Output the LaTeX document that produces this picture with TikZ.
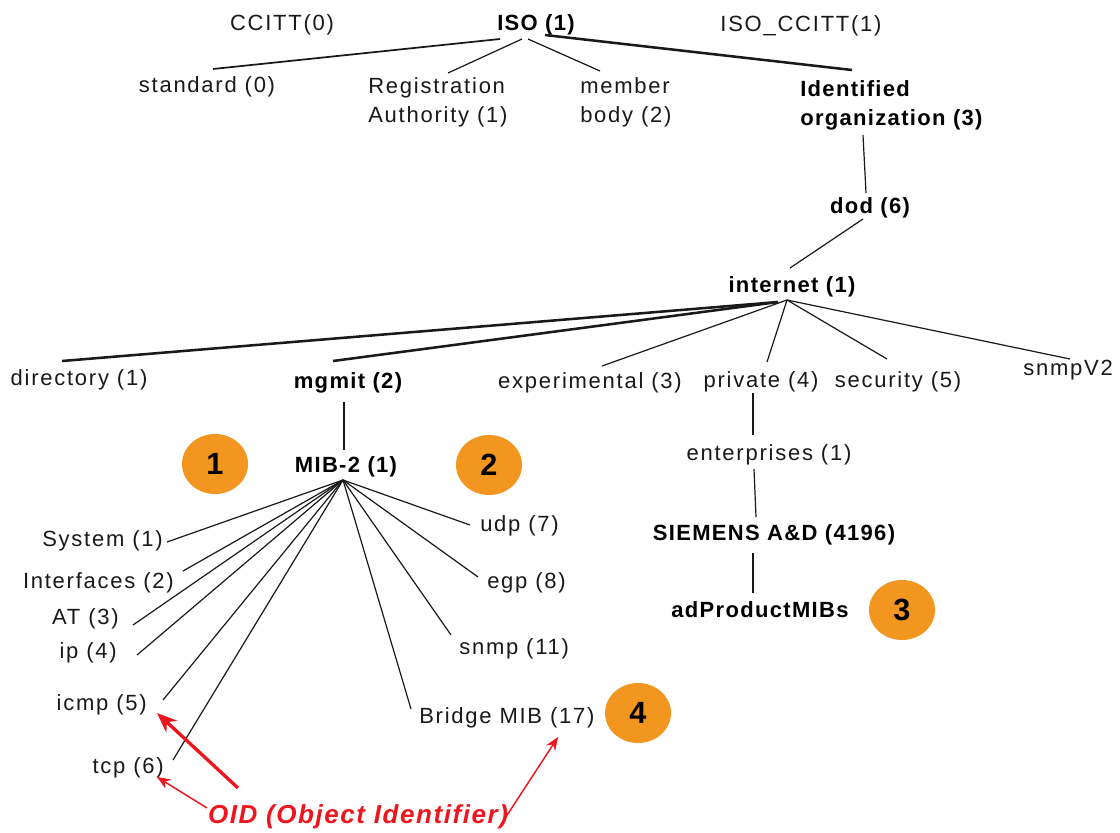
\documentclass[tikz,border=0pt]{standalone}
\usepackage{fontspec}
\setmainfont{Liberation Sans}
\newfontfamily\treefont[LetterSpace=8]{Liberation Sans}
\newfontfamily\treebold[LetterSpace=6]{Liberation Sans}
\usetikzlibrary{arrows.meta,shapes.geometric}
\definecolor{badgeorange}{RGB}{242,150,32}
\definecolor{oidred}{RGB}{238,22,30}
\definecolor{ink}{RGB}{25,25,25}

\begin{document}
\begin{tikzpicture}[x=0.75pt, y=-0.75pt,
  txt/.style={inner sep=0pt, text=ink, font=\treefont\fontsize{16.5pt}{21.75pt}\selectfont},
  btxt/.style={inner sep=0pt, text=black, font=\treebold\bfseries\fontsize{16.5pt}{21.75pt}\selectfont},
  edge/.style={draw=ink, line width=0.9pt},
  midedge/.style={draw=ink, line width=1.3pt},
  trunk/.style={draw=ink, line width=1.9pt},
  badge/.style={ellipse, fill=badgeorange, minimum width=49.5pt, minimum height=45pt,
    inner sep=0pt, text=black, font=\treebold\bfseries\fontsize{23pt}{23pt}\selectfont},
  oidarrow/.style={draw=oidred, line width=1.1pt, -{Stealth[length=10pt, width=8pt]}},
  oidbig/.style={draw=oidred, line width=2.5pt, -{Stealth[length=15pt, width=12pt]}}
]
\fill[white] (0,0) rectangle (1120,832);
\useasboundingbox (0,0) rectangle (1120,832);

% ---- top level ----
\node[txt] (ccitt) at (282,25) {CCITT(0)};
\node[btxt] (iso) at (536,25) {ISO (1)};
\node[txt] (isoccitt) at (801,26) {ISO\_CCITT(1)};
\node[txt] (standard) at (207,87) {standard (0)};
\node[txt, anchor=west, align=left] (regauth) at (368,102) {Registration\\Authority (1)};
\node[txt, anchor=west, align=left] (member) at (580,102) {member\\body (2)};
\node[btxt, anchor=west, align=left] (identorg) at (800,105) {Identified\\organization (3)};
\node[btxt] (dod) at (870,208) {dod (6)};
\node[btxt] (internet) at (792,287) {internet (1)};

% ---- internet subtree ----
\node[txt] (directory) at (79,380) {directory (1)};
\node[btxt] (mgmt) at (348,383) {mgmit (2)};
\node[txt] (experimental) at (590,383) {experimental (3)};
\node[txt] (private) at (761,382) {private (4)};
\node[txt] (security) at (898,382) {security (5)};
\node[txt, anchor=west] (snmpv2) at (1023,370) {snmpV2};

\node[btxt] (mib) at (346,467) {MIB-2 (1)};
\node[txt] (enterprises) at (769,455) {enterprises (1)};
\node[btxt] (siemens) at (774,535) {SIEMENS A\&D (4196)};
\node[btxt] (adproduct) at (760,610) {adProductMIBs};

% ---- MIB-2 groups ----
\node[txt, anchor=east] (system) at (163,541) {System (1)};
\node[txt, anchor=east] (interfaces) at (174,583) {Interfaces (2)};
\node[txt, anchor=east] (at) at (119,619) {AT (3)};
\node[txt, anchor=east] (ip) at (117,653) {ip (4)};
\node[txt, anchor=east] (icmp) at (147,705) {icmp (5)};
\node[txt, anchor=east] (tcp) at (164,768) {tcp (6)};
\node[txt, anchor=west] (udp) at (480,526) {udp (7)};
\node[txt, anchor=west] (egp) at (487,583) {egp (8)};
\node[txt, anchor=west] (snmp) at (459,649) {snmp (11)};
\node[txt, anchor=west] (bridge) at (419,718) {Bridge MIB (17)};

% ---- numbered badges ----
\node[badge] (b1) at (215,464) {1};
\node[badge] (b2) at (489,465) {2};
\node[badge] (b3) at (902,610) {3};
\node[badge] (b4) at (638,713) {4};

\node[inner sep=0pt, text=oidred, font=\treebold\bfseries\itshape\fontsize{19.5pt}{20pt}\selectfont]
  (oid) at (358,817) {OID (Object Identifier)};

% ---- connector end points ----
\coordinate (iso-s) at (500,39);   \coordinate (standard-n) at (213,69);
\coordinate (iso-r) at (522,39);   \coordinate (regauth-n) at (448,73);
\coordinate (iso-m) at (528,39);   \coordinate (member-n) at (600,71);
\coordinate (iso-i) at (545,35);   \coordinate (identorg-n) at (852,70);
\coordinate (identorg-s) at (863,135); \coordinate (dod-n) at (866,193);
\coordinate (dod-s) at (863,219);  \coordinate (internet-n) at (790,268);
\coordinate (internet-hubL) at (778,302);
\coordinate (internet-hub) at (787,300);
\coordinate (directory-n) at (62,361);
\coordinate (mgmt-n) at (333,361);
\coordinate (experimental-n) at (602,366);
\coordinate (private-n) at (767,362);
\coordinate (security-n) at (887,359);
\coordinate (snmpv2-n) at (1070,359);
\coordinate (mgmt-s) at (344,402); \coordinate (mib-n) at (344,450);
\coordinate (mib-hub) at (343,480);
\coordinate (system-e) at (167,542);
\coordinate (interfaces-e) at (183,571);
\coordinate (at-e) at (133,625);
\coordinate (ip-e) at (137,655);
\coordinate (icmp-e) at (163,700);
\coordinate (tcp-e) at (173,760);
\coordinate (udp-w) at (470,525);
\coordinate (egp-w) at (478,577);
\coordinate (snmp-w) at (451,635);
\coordinate (bridge-w) at (411,709);
\coordinate (private-s) at (753,393);     \coordinate (enterprises-n) at (753,435);
\coordinate (enterprises-s) at (754,469); \coordinate (siemens-n) at (756,517);
\coordinate (siemens-s) at (753,553);     \coordinate (adproduct-n) at (753,593);
\coordinate (oid-a) at (238,788);  \coordinate (icmp-tip) at (157,713);
\coordinate (oid-b) at (207,808);  \coordinate (tcp-tip) at (157,777);
\coordinate (oid-c) at (500,826);  \coordinate (bridge-tip) at (558,737);

% ---- tree edges ----
\draw[midedge] (iso-s) -- (standard-n);
\draw[edge] (iso-r) -- (regauth-n);
\draw[edge] (iso-m) -- (member-n);
\draw[trunk] (iso-i) -- (identorg-n);
\draw[edge] (identorg-s) -- (dod-n);
\draw[edge] (dod-s) -- (internet-n);
\draw[trunk] (internet-hubL) -- (directory-n);
\draw[trunk] (internet-hubL) -- (mgmt-n);
\draw[edge] (internet-hub) -- (experimental-n);
\draw[edge] (internet-hub) -- (private-n);
\draw[edge] (internet-hub) -- (security-n);
\draw[edge] (internet-hub) -- (snmpv2-n);
\draw[edge] (mgmt-s) -- (mib-n);
\foreach \leaf in {system-e, interfaces-e, at-e, ip-e, icmp-e, tcp-e,
                   udp-w, egp-w, snmp-w, bridge-w}
  \draw[edge] (mib-hub) -- (\leaf);
\draw[edge] (private-s) -- (enterprises-n);
\draw[edge] (enterprises-s) -- (siemens-n);
\draw[edge] (siemens-s) -- (adproduct-n);

% ---- OID pointers ----
\draw[oidbig] (oid-a) -- (icmp-tip);
\draw[oidarrow] (oid-b) -- (tcp-tip);
\draw[oidarrow] (oid-c) -- (bridge-tip);
\end{tikzpicture}
\end{document}
